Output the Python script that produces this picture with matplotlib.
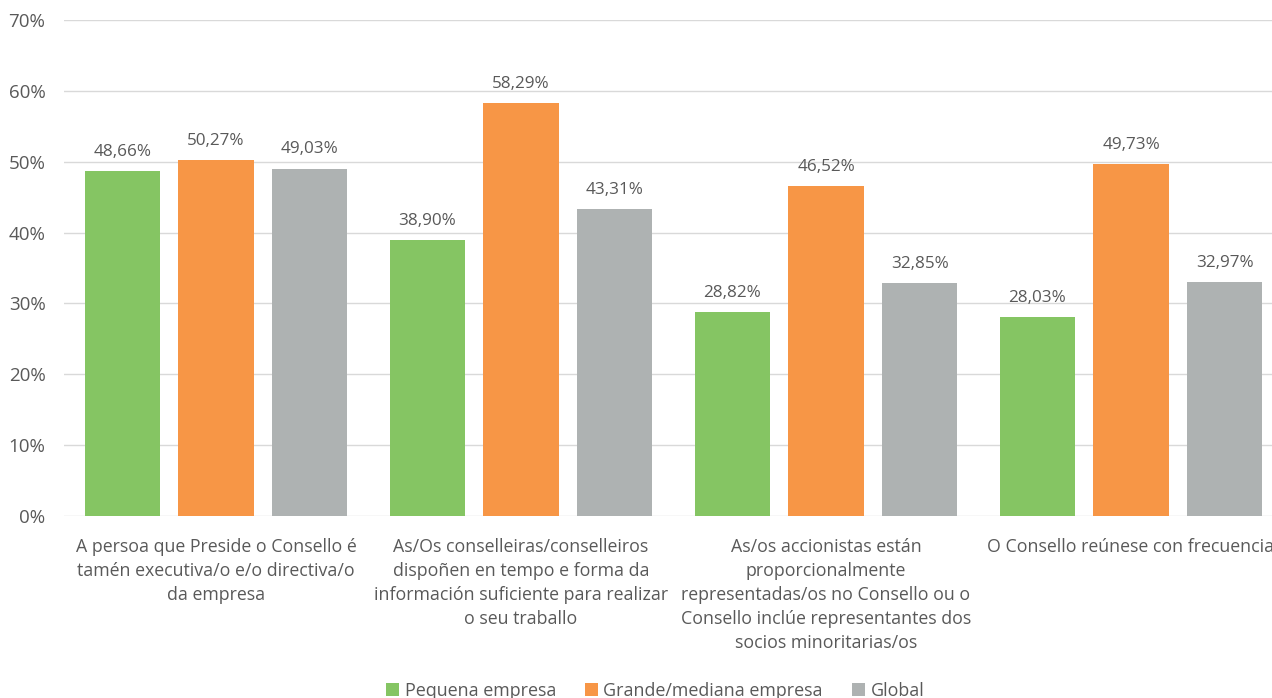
import numpy as np
import matplotlib.pyplot as plt

plt.rcParams['font.family'] = ['Open Sans', 'DejaVu Sans']

categories = [
    "A persoa que Preside o Consello é\ntamén executiva/o e/o directiva/o\nda empresa",
    "As/Os conselleiras/conselleiros\ndispoñen en tempo e forma da\ninformación suficiente para realizar\no seu traballo",
    "As/os accionistas están\nproporcionalmente\nrepresentadas/os no Consello ou o\nConsello inclúe representantes dos\nsocios minoritarias/os",
    "O Consello reúnese con frecuencia",
]
series_names = ["Pequena empresa", "Grande/mediana empresa", "Global"]
pequena = [48.66, 38.90, 28.82, 28.03]
grande = [50.27, 58.29, 46.52, 49.73]
glob = [49.03, 43.31, 32.85, 32.97]

colors = ["#85C563", "#F79646", "#AEB2B2"]
txt = "#595959"

fig = plt.figure(figsize=(12.72, 6.98), dpi=100)
ax = fig.add_axes([63.5 / 1272, 1 - 516 / 698, 1220 / 1272, 496 / 698])

x = np.arange(len(categories))
w = 0.246
off = 0.307
for i, (vals, name) in enumerate(zip([pequena, grande, glob], series_names)):
    pos = x + (i - 1) * off
    ax.bar(pos, vals, width=w, color=colors[i], label=name, zorder=3)
    for p, v in zip(pos, vals):
        ax.annotate(f"{v:.2f}%".replace(".", ","), (p, v), xytext=(0, 8),
                    textcoords="offset points", ha="center", va="bottom",
                    fontsize=12.3, color=txt)

ax.set_xlim(-0.5, 3.5)
ax.set_ylim(0, 70)
ax.set_yticks(np.arange(0, 71, 10))
ax.set_yticklabels([f"{t}%" for t in range(0, 71, 10)])
ax.set_xticks(x)
ax.set_xticklabels(categories, linespacing=1.42)
ax.tick_params(axis="both", length=0, colors=txt)
ax.tick_params(axis="x", pad=16, labelsize=12.8)
ax.tick_params(axis="y", pad=13, labelsize=13.5)
ax.grid(axis="y", color="#D9D9D9", linewidth=1, zorder=0)
for s in ax.spines.values():
    s.set_visible(False)

fig.legend(loc="center", bbox_to_anchor=(655 / 1272, 1 - 691 / 698), ncol=3,
           frameon=False, fontsize=12.9, labelcolor=txt, handlelength=0.75,
           handleheight=0.75, handletextpad=0.3, columnspacing=1.6)

fig.savefig("out.png", dpi=100)
